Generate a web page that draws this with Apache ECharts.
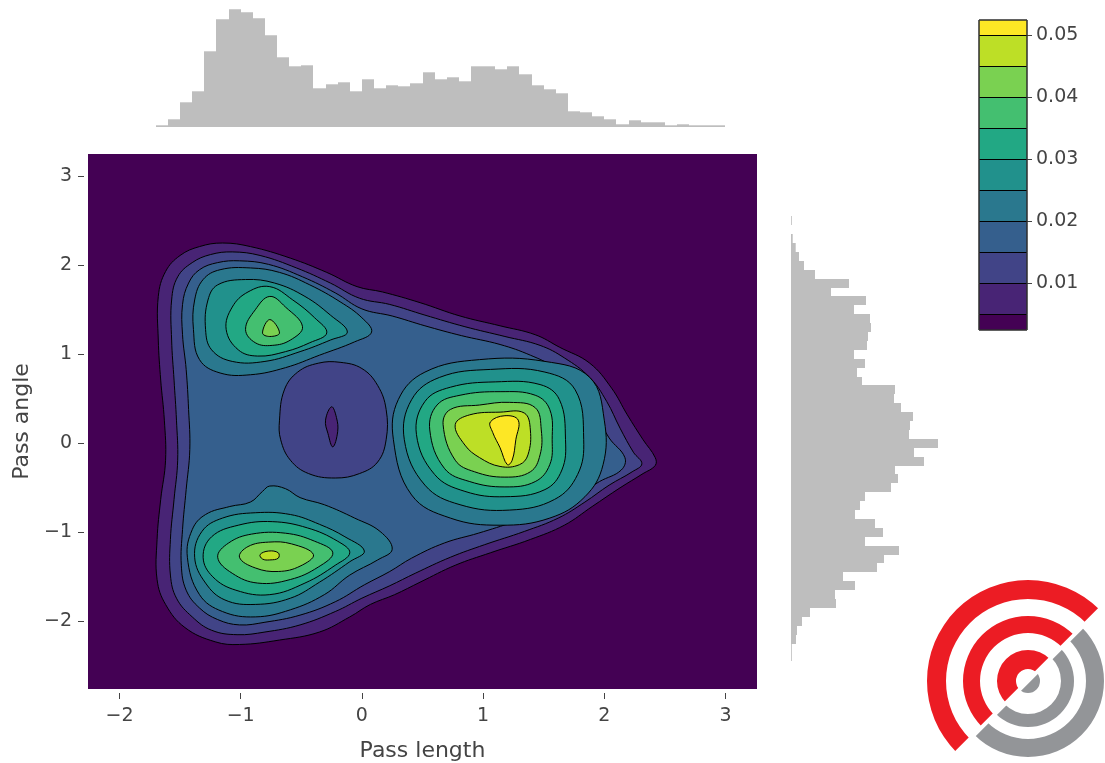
<!DOCTYPE html>
<html><head><meta charset="utf-8">
<script src="https://cdn.jsdelivr.net/npm/echarts@6/dist/echarts.min.js"></script>
<style>html,body{margin:0;padding:0;background:#fff}#c{width:1105px;height:763px}</style>
</head><body><div id="c"></div>
<script>
// ---------- axis ranges / ticks ----------
const xRange = [-2.26, 3.26];
const yRange = [-2.76, 3.25];
const xTicks = [-2, -1, 0, 1, 2, 3];
const yTicks = [-2, -1, 0, 1, 2, 3];
const cbTicks = [0.01, 0.02, 0.03, 0.04, 0.05];
const cbRange = [0.0025, 0.0525];
const levelEdges = [0.0025, 0.005, 0.01, 0.015, 0.02, 0.025, 0.03, 0.035, 0.04, 0.045, 0.05, 0.0525];
const bandColors = ['#440154','#482475','#414487','#355f8d','#2a788e','#21918c','#22a884','#44bf70','#7ad151','#bddf26','#fde725'];

// ---------- marginal histograms (bin width 0.1) ----------
const topHistStart = -1.7;
const topHistCounts = [1.7,7.7,24.7,35.7,75.7,107.7,117.7,114.7,108.7,91.7,69.7,60.7,61.7,38.7,42.7,44.7,35.7,47.7,38.7,41.7,40.7,43.7,54.7,47.7,49.7,45.7,60.7,60.7,57.7,60.7,52.7,41.7,37.7,33.7,15.7,14.7,10.7,7.7,2.7,6.7,4.7,4.7,1.7,2.7,1.7,1.7,1.7];
const rightHistStart = -2.45;
const rightHistCounts = [0.8,0.8,5,6,11,19,45,44,64,52,86,93,108,74,92,84,64,69,74,100,107,104,133,123,147,118,119,122,110,103,104,71,66,74,63,76,77,80,79,63,75,40,58,24,13,8,4.7,1.7,0,0.8];
const binWidth = 0.1;

// ---------- contour polygons (density levels), x = pass length, y = pass angle ----------
const contourL005 = [[-1.68,1.65],[-1.62,1.93],[-1.50,2.11],[-1.34,2.21],[-1.15,2.25],[-0.92,2.21],[-0.59,2.08],[-0.29,1.92],[-0.04,1.76],[0.17,1.70],[0.48,1.58],[0.81,1.43],[1.14,1.32],[1.43,1.22],[1.63,1.08],[1.88,0.90],[2.06,0.62],[2.19,0.32],[2.32,0.04],[2.42,-0.16],[2.42,-0.25],[2.32,-0.34],[2.13,-0.50],[1.90,-0.71],[1.67,-0.92],[1.39,-1.08],[1.06,-1.23],[0.77,-1.37],[0.48,-1.56],[0.27,-1.70],[0.07,-1.81],[-0.10,-1.95],[-0.35,-2.12],[-0.68,-2.21],[-1.01,-2.26],[-1.21,-2.23],[-1.46,-2.07],[-1.62,-1.81],[-1.69,-1.53],[-1.69,-1.08],[-1.66,-0.63],[-1.62,-0.19],[-1.63,0.26],[-1.66,0.71],[-1.68,1.16]];
const contourL010 = [[-1.57,1.61],[-1.52,1.87],[-1.40,2.03],[-1.25,2.12],[-1.07,2.15],[-0.84,2.11],[-0.54,1.97],[-0.26,1.80],[-0.02,1.63],[0.23,1.56],[0.52,1.44],[0.85,1.31],[1.18,1.20],[1.47,1.10],[1.67,0.96],[1.88,0.74],[2.02,0.47],[2.13,0.17],[2.24,-0.10],[2.31,-0.23],[2.23,-0.32],[2.04,-0.47],[1.84,-0.66],[1.62,-0.84],[1.34,-0.99],[1.01,-1.14],[0.73,-1.28],[0.44,-1.46],[0.23,-1.60],[0.00,-1.74],[-0.22,-1.89],[-0.51,-2.04],[-0.80,-2.12],[-1.03,-2.15],[-1.24,-2.10],[-1.40,-1.95],[-1.53,-1.74],[-1.58,-1.48],[-1.58,-1.08],[-1.55,-0.63],[-1.52,-0.19],[-1.53,0.26],[-1.55,0.71],[-1.57,1.16]];
const contourL015 = [[-1.48,1.56],[-1.43,1.80],[-1.34,1.95],[-1.19,2.03],[-1.01,2.05],[-0.77,2.01],[-0.49,1.87],[-0.22,1.69],[0.00,1.51],[0.25,1.43],[0.52,1.32],[0.82,1.21],[1.14,1.11],[1.39,0.99],[1.59,0.85],[1.78,0.62],[1.92,0.35],[2.04,0.06],[2.17,-0.16],[2.14,-0.30],[1.96,-0.43],[1.76,-0.60],[1.53,-0.75],[1.26,-0.88],[0.96,-1.01],[0.68,-1.12],[0.41,-1.29],[0.23,-1.44],[0.02,-1.59],[-0.22,-1.78],[-0.51,-1.93],[-0.80,-2.01],[-1.01,-2.04],[-1.19,-1.98],[-1.34,-1.85],[-1.45,-1.65],[-1.49,-1.37],[-1.48,-0.97],[-1.45,-0.52],[-1.42,-0.07],[-1.43,0.38],[-1.45,0.83],[-1.48,1.22]];
const centreL015 = [[-0.68,0.26],[-0.64,0.60],[-0.53,0.80],[-0.36,0.90],[-0.18,0.91],[0.00,0.84],[0.13,0.65],[0.20,0.38],[0.20,0.04],[0.13,-0.21],[-0.02,-0.34],[-0.22,-0.39],[-0.44,-0.34],[-0.59,-0.19],[-0.67,0.04]];
const centreL010 = [[-0.25,0.41],[-0.21,0.29],[-0.20,0.13],[-0.24,-0.04],[-0.28,0.11],[-0.30,0.26]];
const topL020 = [[-1.39,1.28],[-1.38,1.61],[-1.31,1.84],[-1.17,1.95],[-0.92,1.97],[-0.68,1.92],[-0.43,1.78],[-0.18,1.59],[0.00,1.41],[0.08,1.25],[-0.06,1.14],[-0.35,0.99],[-0.63,0.85],[-0.92,0.77],[-1.17,0.79],[-1.34,0.94]];
const topL025 = [[-1.29,1.28],[-1.27,1.61],[-1.19,1.78],[-0.96,1.84],[-0.72,1.80],[-0.47,1.65],[-0.26,1.44],[-0.12,1.25],[-0.26,1.16],[-0.51,1.03],[-0.80,0.92],[-1.07,0.92],[-1.24,1.05]];
const topL030 = [[-1.12,1.28],[-1.07,1.53],[-0.94,1.70],[-0.76,1.76],[-0.57,1.61],[-0.39,1.41],[-0.29,1.24],[-0.43,1.13],[-0.63,1.03],[-0.86,0.98],[-1.02,1.05]];
const topL035 = [[-0.96,1.28],[-0.88,1.50],[-0.76,1.65],[-0.63,1.53],[-0.49,1.31],[-0.59,1.16],[-0.74,1.10],[-0.88,1.13]];
const topL040 = [[-0.82,1.24],[-0.76,1.39],[-0.68,1.24],[-0.76,1.20]];
const botL020 = [[-1.44,-1.28],[-1.40,-0.97],[-1.29,-0.80],[-1.09,-0.71],[-0.92,-0.66],[-0.82,-0.54],[-0.76,-0.48],[-0.63,-0.51],[-0.51,-0.61],[-0.31,-0.69],[-0.06,-0.84],[0.15,-0.99],[0.25,-1.19],[0.13,-1.31],[-0.10,-1.48],[-0.31,-1.70],[-0.59,-1.87],[-0.88,-1.95],[-1.15,-1.89],[-1.34,-1.70]];
const botL025 = [[-1.38,-1.28],[-1.32,-0.99],[-1.15,-0.84],[-0.88,-0.78],[-0.59,-0.80],[-0.35,-0.91],[-0.14,-1.05],[0.02,-1.21],[-0.10,-1.33],[-0.35,-1.56],[-0.59,-1.74],[-0.88,-1.81],[-1.13,-1.76],[-1.29,-1.57]];
const botL030 = [[-1.31,-1.28],[-1.24,-1.05],[-1.02,-0.92],[-0.74,-0.88],[-0.45,-0.95],[-0.20,-1.10],[-0.10,-1.23],[-0.22,-1.37],[-0.47,-1.57],[-0.76,-1.70],[-1.04,-1.65],[-1.23,-1.50]];
const botL035 = [[-1.19,-1.28],[-1.10,-1.12],[-0.91,-1.02],[-0.63,-1.01],[-0.39,-1.10],[-0.24,-1.23],[-0.36,-1.39],[-0.59,-1.53],[-0.86,-1.57],[-1.07,-1.46]];
const botL040 = [[-1.01,-1.28],[-0.94,-1.16],[-0.77,-1.11],[-0.58,-1.13],[-0.40,-1.25],[-0.51,-1.38],[-0.69,-1.44],[-0.88,-1.40]];
const botL045 = [[-0.84,-1.25],[-0.77,-1.21],[-0.69,-1.23],[-0.69,-1.29],[-0.76,-1.31],[-0.82,-1.30]];
const rightL020 = [[0.26,0.04],[0.30,0.49],[0.52,0.80],[0.97,0.94],[1.51,0.92],[1.88,0.74],[2.00,0.26],[1.99,-0.24],[1.84,-0.60],[1.55,-0.84],[1.14,-0.92],[0.73,-0.84],[0.41,-0.58]];
const rightL025 = [[0.35,0.04],[0.41,0.49],[0.64,0.74],[1.06,0.83],[1.51,0.80],[1.76,0.60],[1.83,0.04],[1.78,-0.35],[1.59,-0.63],[1.22,-0.75],[0.81,-0.69],[0.52,-0.47]];
const rightL030 = [[0.45,0.10],[0.52,0.47],[0.73,0.63],[1.10,0.69],[1.47,0.66],[1.63,0.49],[1.68,0.04],[1.65,-0.30],[1.51,-0.52],[1.18,-0.60],[0.85,-0.54],[0.60,-0.35]];
const rightL035 = [[0.56,0.15],[0.62,0.43],[0.81,0.54],[1.14,0.58],[1.43,0.54],[1.55,0.38],[1.57,0.04],[1.55,-0.24],[1.43,-0.43],[1.18,-0.49],[0.89,-0.43],[0.68,-0.28]];
const rightL040 = [[0.67,0.21],[0.73,0.38],[0.97,0.43],[1.22,0.46],[1.43,0.40],[1.48,0.15],[1.47,-0.13],[1.39,-0.32],[1.18,-0.38],[0.93,-0.32],[0.77,-0.19]];
const rightL045 = [[0.77,0.21],[0.89,0.32],[1.14,0.35],[1.34,0.34],[1.39,0.15],[1.37,-0.13],[1.30,-0.24],[1.14,-0.26],[0.97,-0.16],[0.85,-0.02]];
const rightL050 = [[1.06,0.24],[1.18,0.31],[1.29,0.26],[1.27,0.04],[1.24,-0.19],[1.20,-0.24],[1.14,-0.05],[1.08,0.12]];

// painting order: [polygon, band index of the region inside it]
const contourLayers = [
  [contourL005, 1], [contourL010, 2], [contourL015, 3], [centreL015, 2], [centreL010, 1],
  [topL020, 4], [topL025, 5], [topL030, 6], [topL035, 7], [topL040, 8],
  [botL020, 4], [botL025, 5], [botL030, 6], [botL035, 7], [botL040, 8], [botL045, 9],
  [rightL020, 4], [rightL025, 5], [rightL030, 6], [rightL035, 7], [rightL040, 8], [rightL045, 9], [rightL050, 10]
];

// ---------- build ----------
const chart = echarts.init(document.getElementById('c'), null, {renderer: 'canvas'});
const FONT = 'DejaVu Sans';
const fmtMinus = v => (v < 0 ? '\u2212' + Math.abs(v) : String(v));
const topBins = topHistCounts.map((c, i) => [topHistStart + i * binWidth, topHistStart + (i + 1) * binWidth, c]);
const rightBins = rightHistCounts.map((c, i) => [rightHistStart + i * binWidth, rightHistStart + (i + 1) * binWidth, c]);
const cbBands = bandColors.map((col, i) => [levelEdges[i], levelEdges[i + 1], i]);

const hiddenAxis = (extra) => Object.assign({type: 'value', show: false, splitLine: {show: false}, axisLine: {onZero: false}}, extra);

const LOGO = {cx: 1028, cy: 681};
const redArc = (r0, r) => ({type: 'sector', silent: true, z: 50,
  shape: {cx: LOGO.cx, cy: LOGO.cy, r: r, r0: r0, startAngle: Math.PI * 0.75, endAngle: Math.PI * 1.75},
  style: {fill: '#ec1c24'}});
const greyArc = (r0, r) => ({type: 'sector', silent: true, z: 50,
  shape: {cx: LOGO.cx, cy: LOGO.cy, r: r, r0: r0, startAngle: -Math.PI * 0.25, endAngle: Math.PI * 0.75},
  style: {fill: '#939598'}});

const option = {
  animation: false,
  backgroundColor: '#ffffff',
  grid: [
    {left: 88, top: 154, width: 669, height: 535, show: true, backgroundColor: '#440154', borderWidth: 0, outerBoundsMode: 'none', containLabel: false},
    {left: 88, top: 7, width: 669, height: 120, show: false, outerBoundsMode: 'none'},
    {left: 791, top: 154, width: 160, height: 535, show: false, outerBoundsMode: 'none'},
    {left: 979, top: 20, width: 48, height: 310, show: false, outerBoundsMode: 'none'}
  ],
  xAxis: [
    {type: 'value', gridIndex: 0, min: xRange[0], max: xRange[1], offset: 4,
     axisLine: {show: false, onZero: false}, splitLine: {show: false},
     axisTick: {show: true, length: 6, customValues: xTicks, lineStyle: {color: '#444', width: 1}},
     axisLabel: {customValues: xTicks, formatter: fmtMinus, color: '#444', fontSize: 19, fontFamily: FONT, margin: 14},
     name: 'Pass length', nameLocation: 'middle', nameGap: 47,
     nameTextStyle: {color: '#444', fontSize: 22, fontFamily: FONT}},
    hiddenAxis({gridIndex: 1, min: xRange[0], max: xRange[1]}),
    hiddenAxis({gridIndex: 2, min: 0, max: 160}),
    hiddenAxis({gridIndex: 3, min: 0, max: 1})
  ],
  yAxis: [
    {type: 'value', gridIndex: 0, min: yRange[0], max: yRange[1], offset: 4,
     axisLine: {show: false, onZero: false}, splitLine: {show: false},
     axisTick: {show: true, length: 6, customValues: yTicks, lineStyle: {color: '#444', width: 1}},
     axisLabel: {customValues: yTicks, formatter: fmtMinus, color: '#444', fontSize: 19, fontFamily: FONT, margin: 12},
     name: 'Pass angle', nameLocation: 'middle', nameGap: 50, nameRotate: 90,
     nameTextStyle: {color: '#444', fontSize: 22, fontFamily: FONT}},
    hiddenAxis({gridIndex: 1, min: 0, max: 120}),
    hiddenAxis({gridIndex: 2, min: yRange[0], max: yRange[1]}),
    {type: 'value', gridIndex: 3, min: cbRange[0], max: cbRange[1], position: 'right',
     axisLine: {show: false, onZero: false}, splitLine: {show: false},
     axisTick: {show: true, length: 5, customValues: cbTicks, lineStyle: {color: '#444'}},
     axisLabel: {customValues: cbTicks, formatter: v => v.toFixed(2), color: '#444', fontSize: 19, fontFamily: FONT, margin: 9}}
  ],
  series: [
    {
      type: 'custom', xAxisIndex: 0, yAxisIndex: 0, clip: true,
      data: contourLayers.map((l, i) => i),
      renderItem: (params, api) => {
        const layer = contourLayers[params.dataIndex];
        const pts = layer[0].map(p => api.coord(p));
        return {type: 'polygon', shape: {points: pts, smooth: 0.4},
          style: {fill: bandColors[layer[1]], stroke: '#000', lineWidth: 1}};
      }
    },
    {
      type: 'custom', xAxisIndex: 1, yAxisIndex: 1,
      data: topBins,
      renderItem: (params, api) => {
        const a = api.coord([api.value(0), api.value(2)]);
        const b = api.coord([api.value(1), 0]);
        const x0 = Math.round(a[0]), x1 = Math.round(b[0]);
        return {type: 'rect', shape: {x: x0, y: a[1], width: x1 - x0, height: b[1] - a[1]},
          style: {fill: '#bebebe', stroke: null}};
      }
    },
    {
      type: 'custom', xAxisIndex: 2, yAxisIndex: 2,
      data: rightBins,
      renderItem: (params, api) => {
        const a = api.coord([0, api.value(1)]);
        const b = api.coord([api.value(2), api.value(0)]);
        const y0 = Math.round(a[1]), y1 = Math.round(b[1]);
        return {type: 'rect', shape: {x: a[0], y: y0, width: Math.max(b[0] - a[0], 0), height: y1 - y0},
          style: {fill: '#bebebe', stroke: null}};
      }
    },
    {
      type: 'custom', xAxisIndex: 3, yAxisIndex: 3,
      data: cbBands,
      renderItem: (params, api) => {
        const a = api.coord([0, api.value(1)]);
        const b = api.coord([1, api.value(0)]);
        return {type: 'rect', shape: {x: a[0], y: a[1], width: b[0] - a[0], height: b[1] - a[1]},
          style: {fill: bandColors[api.value(2)], stroke: '#000', lineWidth: 1}};
      }
    }
  ],
  graphic: [
    {type: 'rect', silent: true, z: 100, shape: {x: 979, y: 20, width: 48, height: 310}, style: {fill: null, stroke: '#444', lineWidth: 1}},
    redArc(82, 101), redArc(48, 65), redArc(12, 31),
    greyArc(58, 76), greyArc(33, 46), greyArc(0, 12),
    {type: 'line', silent: true, z: 51, shape: {x1: LOGO.cx - 110, y1: LOGO.cy + 110, x2: LOGO.cx + 110, y2: LOGO.cy - 110}, style: {stroke: '#fff', lineWidth: 4}}
  ]
};
chart.setOption(option);
</script></body></html>
